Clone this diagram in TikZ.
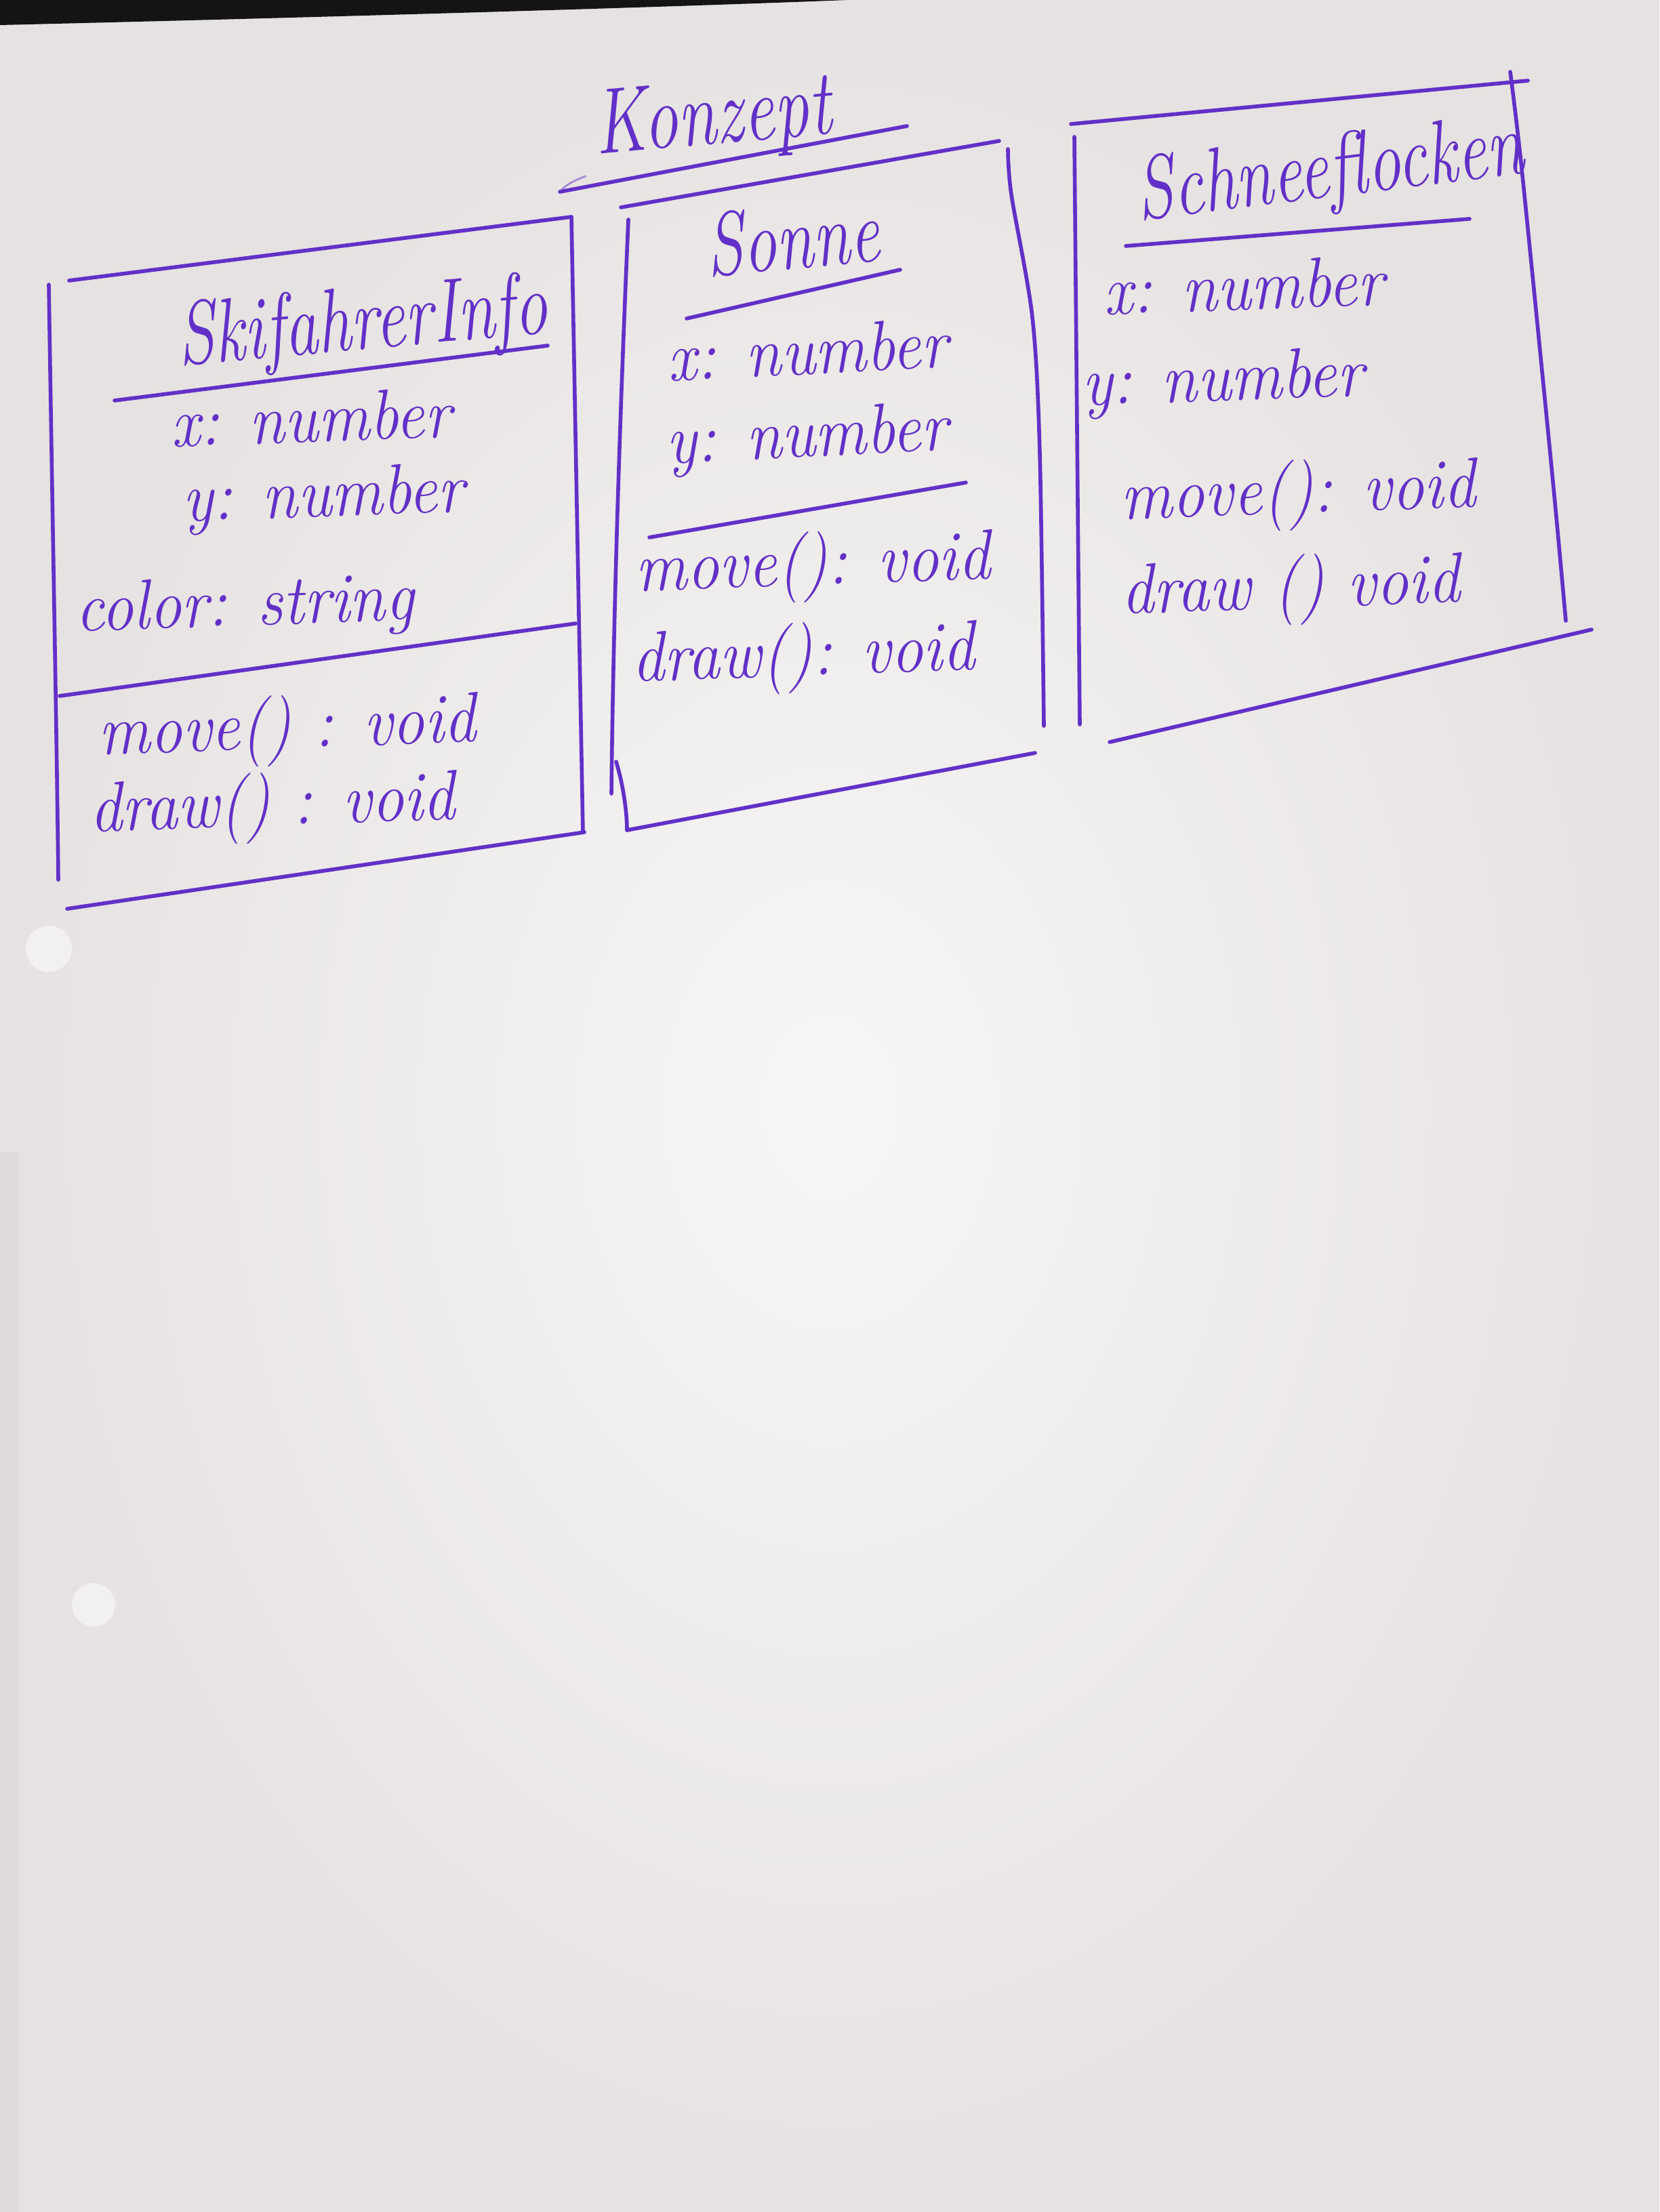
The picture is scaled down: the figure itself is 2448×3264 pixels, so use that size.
\documentclass[tikz,border=0pt]{standalone}
\begin{document}
\definecolor{ink}{RGB}{98,48,200}
\definecolor{paper}{RGB}{230,226,225}
\definecolor{paperlight}{RGB}{247,246,246}
% taller letter shapes for the handwritten look
\newcommand\tallhand[1]{\scalebox{1}[1.35]{#1}}
\newcommand\bodyhand[1]{\scalebox{1}[1.1]{#1}}
\begin{tikzpicture}[x=0.01cm,y=-0.01cm,
  pen/.style={draw=ink, line width=1.6pt, line cap=round, line join=round},
  hand/.style={text=ink, font=\fontsize{27}{30}\selectfont\itshape, anchor=base, rotate=2, inner sep=0pt},
  heading/.style={hand, font=\fontsize{28}{31}\selectfont\itshape, rotate=3},
  hole/.style={fill=paperlight!70!paper}]
\useasboundingbox (0,0) rectangle (2448,3264);

% sheet of paper
\shade[inner color=paperlight, outer color=paper] (0,0) rectangle (2448,3264);
\fill[paper!90!black, opacity=0.3] (0,1700) rectangle (28,3264);
\fill[black!92] (0,0) -- (1250,0) .. controls (1000,10) and (500,25) .. (0,37) -- cycle;
\fill[hole] (72,1400) circle (34);
\fill[hole] (138,2368) circle (32);

% heading
\node[heading, font=\fontsize{29}{32}\selectfont\itshape] (konzept) at (1055,212) {\tallhand{Konzept}};
\draw[pen] (826,283) -- (1338,186);
\draw[pen, line width=0.8pt, opacity=0.5] (826,283) .. controls (835,272) and (848,266) .. (864,260);

% class SkifahrerInfo
\draw[pen] (102,414) -- (843,320);
\draw[pen] (72,420) .. controls (78,800) and (84,1100) .. (86,1298);
\draw[pen] (843,320) -- (860,1228);
\draw[pen] (99,1341) -- (862,1228);
\draw[pen] (169,591) -- (808,510);
\draw[pen] (88,1027) -- (849,920);
\node[heading] (ski)   at (538,515)  {\tallhand{SkifahrerInfo}};
\node[hand] (skix)  at (460,652)  {\bodyhand{x: number}};
\node[hand] (skiy)  at (478,762)  {\bodyhand{y: number}};
\node[hand] (skic)  at (362,923)  {\bodyhand{color: string}};
\node[hand] (skim)  at (425,1104) {\bodyhand{move() : void}};
\node[hand] (skid)  at (403,1218) {\bodyhand{draw() : void}};

% class Sonne
\draw[pen] (916,306) -- (1474,208);
\draw[pen] (927,324) .. controls (915,600) and (905,900) .. (902,1171);
\draw[pen] (909,1124) .. controls (920,1160) and (925,1200) .. (925,1225);
\draw[pen] (925,1225) -- (1527,1111);
\draw[pen] plot[smooth] coordinates {(1487,220) (1492,287) (1523,468) (1534,669) (1540,1071)};
\draw[pen] (1013,470) -- (1328,398);
\draw[pen] (958,793) -- (1425,712);
\node[heading] (son)   at (1173,396) {\tallhand{Sonne}};
\node[hand, rotate=1] (sonx)  at (1193,552) {\bodyhand{x: number}};
\node[hand, rotate=1] (sony)  at (1192,674) {\bodyhand{y: number}};
\node[hand] (sonm)  at (1200,863) {\bodyhand{move(): void}};
\node[hand] (sond)  at (1186,997) {\bodyhand{draw(): void}};

% class Schneeflocken
\draw[pen] (1580,183) -- (2254,119);
\draw[pen] (1585,202) -- (1593,1069);
\draw[pen] plot[smooth] coordinates {(2228,106) (2246,259) (2290,700) (2310,916)};
\draw[pen] (1637,1095) -- (2348,929);
\draw[pen] (1661,363) -- (2168,323);
\node[heading, rotate=2] (sch)   at (1966,290) {\tallhand{Schneeflocken}};
\node[hand] (schx)  at (1836,457) {\bodyhand{x: number}};
\node[hand] (schy)  at (1805,591) {\bodyhand{y: number}};
\node[hand] (schm)  at (1916,757) {\bodyhand{move(): void}};
\node[hand] (schd)  at (1905,897) {\bodyhand{draw () void}};
\end{tikzpicture}
\end{document}
